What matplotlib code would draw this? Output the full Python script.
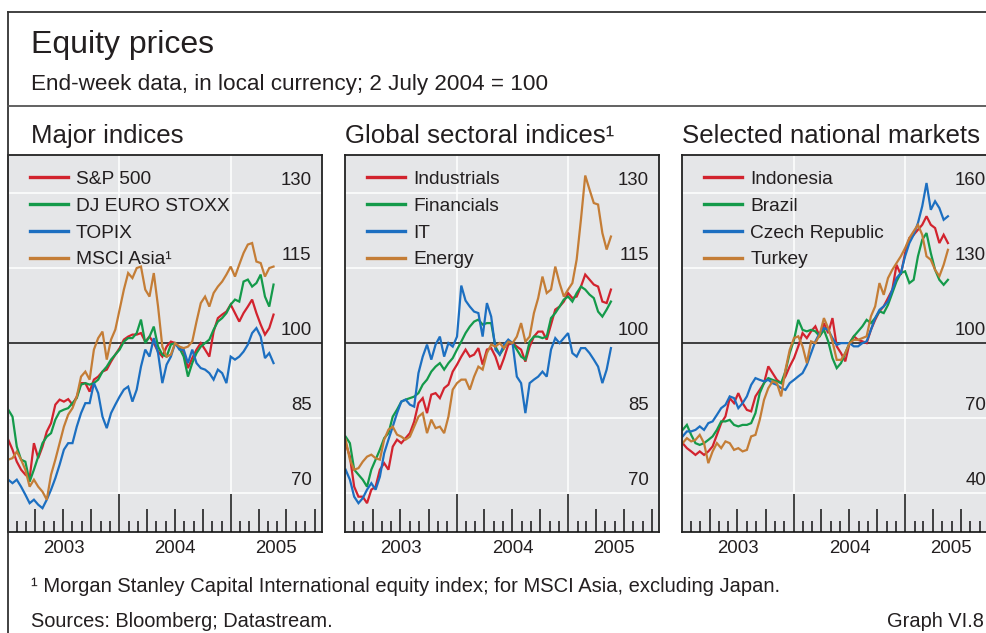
import numpy as np
import pandas as pd
import matplotlib
matplotlib.use("Agg")
import matplotlib.pyplot as plt
from matplotlib.lines import Line2D
from matplotlib.transforms import blended_transform_factory

plt.rcParams['font.family'] = ['Liberation Sans', 'DejaVu Sans']

# ---------------- data (end-week, sampled every two weeks from 3 Jan 2003; 2 July 2004 = 100)
start_date = '2003-01-03'

major_names = ['S&P 500', 'DJ EURO STOXX', 'TOPIX', 'MSCI Asia\u00b9']
sp500 = [80.7, 78.7, 76.3, 74.7, 73.7, 73.0, 80.0, 77.0, 79.3, 82.3,
         84.0, 87.7, 88.7, 88.3, 88.8, 87.7, 89.3, 92.0, 92.0, 90.3,
         92.7, 93.3, 94.3, 94.7, 96.3, 97.7, 99.0, 100.7, 101.3, 101.7,
         101.7, 102.0, 100.3, 101.3, 100.0, 98.3, 97.3, 99.3, 100.3, 100.0,
         99.0, 98.3, 95.0, 97.0, 98.7, 100.0, 98.7, 97.3, 102.3, 105.0,
         105.7, 106.3, 107.7, 106.0, 104.3, 106.0, 107.3, 108.7, 106.0, 103.7,
         101.7, 103.0, 105.7]
eurostoxx = [86.7, 85.3, 79.3, 76.7, 76.3, 72.3, 74.7, 77.3, 80.0, 81.3,
             82.0, 84.7, 86.3, 86.7, 87.0, 88.0, 89.0, 91.7, 92.0, 91.7,
             92.0, 92.7, 94.3, 95.3, 96.7, 97.7, 98.7, 100.3, 101.0, 101.0,
             102.0, 104.7, 100.0, 101.3, 103.3, 99.3, 97.7, 97.3, 99.7, 100.0,
             99.0, 97.3, 93.3, 96.0, 98.0, 99.3, 100.0, 100.7, 102.7, 104.3,
             105.0, 106.0, 107.7, 108.7, 108.3, 112.3, 112.7, 111.3, 112.0, 113.7,
             109.3, 107.3, 111.7]
topix = [72.7, 72.0, 72.7, 71.3, 69.7, 68.0, 68.7, 67.7, 67.0, 68.7,
         70.7, 73.0, 75.7, 78.7, 80.0, 80.0, 83.3, 86.0, 88.0, 88.0,
         92.0, 90.0, 85.3, 83.0, 86.0, 87.7, 89.3, 90.7, 91.3, 88.3,
         90.7, 95.3, 98.7, 97.3, 101.0, 98.0, 92.0, 95.7, 97.3, 100.0,
         98.7, 98.7, 96.0, 98.7, 96.0, 95.0, 94.7, 94.0, 92.7, 94.7,
         94.0, 92.0, 97.3, 96.7, 97.3, 98.3, 99.7, 102.0, 103.0, 101.3,
         97.0, 98.0, 96.0]
msci_asia = [76.7, 77.0, 78.3, 76.7, 74.7, 71.3, 72.7, 71.3, 70.3, 68.7,
             73.7, 76.7, 80.0, 83.3, 85.7, 87.0, 89.3, 93.3, 94.3, 92.7,
             98.7, 101.0, 102.3, 96.7, 100.7, 102.7, 106.7, 110.7, 114.0, 113.0,
             115.0, 115.3, 110.7, 109.3, 114.0, 107.3, 99.3, 97.3, 97.7, 100.0,
             99.3, 99.0, 99.3, 100.3, 104.3, 108.0, 109.3, 107.3, 110.0, 111.3,
             112.3, 113.7, 115.3, 113.3, 115.7, 118.0, 119.7, 120.0, 116.3, 116.0,
             113.3, 115.0, 115.3]

sector_names = ['Industrials', 'Financials', 'IT', 'Energy']
industrials = [80.0, 77.3, 71.3, 69.3, 69.3, 68.0, 70.7, 71.3, 74.7, 76.0,
               74.7, 79.3, 80.7, 80.0, 81.0, 82.0, 84.3, 88.0, 89.0, 86.0,
               89.7, 90.0, 89.0, 91.0, 91.7, 94.3, 95.7, 97.3, 98.7, 97.3,
               97.7, 99.0, 95.7, 98.7, 99.0, 97.3, 94.7, 97.0, 99.7, 100.0,
               99.3, 98.7, 96.3, 99.3, 101.3, 102.3, 102.3, 100.7, 103.7, 106.7,
               107.3, 108.3, 110.0, 109.0, 109.3, 111.3, 113.7, 112.7, 111.7, 111.3,
               108.3, 108.0, 110.7]
financials = [81.3, 80.0, 74.7, 73.7, 72.7, 71.3, 74.7, 76.7, 78.7, 81.0,
              82.0, 85.3, 86.7, 88.3, 88.7, 89.0, 89.3, 90.0, 91.7, 92.7,
              94.3, 95.3, 96.0, 94.7, 96.0, 97.0, 98.7, 100.3, 102.0, 103.3,
              104.3, 104.7, 103.7, 104.0, 104.0, 99.3, 97.7, 99.0, 100.3, 100.0,
              98.7, 97.3, 96.7, 100.3, 101.3, 101.3, 101.0, 101.3, 105.0, 106.0,
              107.3, 108.7, 109.3, 108.3, 110.0, 111.3, 110.7, 109.7, 109.0, 106.3,
              105.3, 106.7, 108.3]
it_sector = [74.7, 72.7, 69.3, 68.0, 69.0, 70.7, 72.0, 70.7, 73.3, 78.0,
             80.7, 83.3, 86.0, 88.3, 88.7, 87.7, 87.3, 94.0, 97.3, 99.7,
             96.7, 99.7, 101.3, 97.3, 100.0, 99.3, 101.3, 111.5, 108.5, 107.3,
             106.3, 106.0, 101.3, 108.0, 105.3, 98.7, 97.7, 99.7, 100.7, 100.0,
             93.3, 92.0, 86.0, 92.0, 92.7, 93.3, 94.3, 93.3, 98.7, 101.0,
             100.0, 101.0, 102.0, 98.0, 97.3, 99.0, 99.0, 98.0, 96.7, 95.3,
             92.0, 94.7, 99.0]
energy = [80.7, 76.7, 74.7, 75.0, 76.3, 77.3, 77.7, 77.0, 76.7, 80.7,
          82.7, 83.3, 81.7, 81.3, 80.7, 81.3, 83.3, 85.3, 86.0, 82.0,
          84.7, 83.0, 83.3, 82.0, 85.3, 90.7, 92.0, 92.7, 92.7, 90.7,
          93.3, 95.3, 94.7, 98.0, 99.7, 99.3, 100.0, 99.0, 100.3, 100.0,
          101.3, 104.0, 100.3, 101.3, 106.0, 109.0, 113.3, 110.0, 110.7, 115.3,
          112.0, 109.3, 110.7, 112.0, 116.7, 124.7, 133.5, 130.7, 128.0, 127.7,
          122.0, 118.7, 121.3]

national_names = ['Indonesia', 'Brazil', 'Czech Republic', 'Turkey']
indonesia = [60.0, 58.0, 56.7, 55.3, 56.7, 55.3, 56.7, 58.7, 63.3, 68.0,
             70.7, 78.0, 76.0, 80.0, 76.0, 73.3, 72.7, 78.7, 81.3, 84.0,
             90.7, 88.0, 85.3, 84.0, 86.7, 90.7, 94.0, 98.7, 104.0, 102.0,
             104.7, 106.7, 102.7, 108.0, 104.0, 110.0, 98.7, 96.0, 92.7, 100.0,
             102.7, 101.3, 100.7, 100.0, 105.3, 109.3, 112.7, 114.7, 118.0, 121.3,
             131.3, 127.3, 136.0, 142.0, 143.3, 145.3, 147.3, 150.7, 147.3, 146.0,
             140.0, 143.3, 140.0]
brazil = [65.3, 67.3, 63.3, 60.0, 59.3, 60.0, 61.3, 62.7, 65.3, 68.7,
          68.7, 69.3, 67.3, 66.7, 67.3, 67.3, 68.0, 72.0, 80.0, 84.0,
          86.0, 85.3, 84.7, 84.0, 88.7, 96.0, 101.3, 109.3, 105.3, 104.7,
          105.3, 104.7, 102.7, 105.3, 100.7, 94.0, 90.0, 92.0, 96.0, 100.0,
          102.7, 104.7, 106.7, 109.3, 108.0, 110.0, 112.7, 112.0, 115.3, 120.0,
          124.7, 128.0, 128.7, 124.0, 125.3, 134.7, 141.3, 144.0, 136.0, 129.3,
          125.3, 123.3, 125.3]
czech = [62.7, 64.7, 64.7, 65.3, 66.7, 65.3, 68.0, 68.7, 71.3, 74.0,
         75.3, 78.7, 78.0, 74.0, 76.0, 78.7, 83.3, 86.0, 85.3, 84.7,
         85.3, 84.0, 83.3, 82.0, 81.3, 84.0, 85.3, 86.7, 88.0, 91.3,
         96.0, 100.7, 104.0, 106.0, 105.3, 102.0, 99.3, 100.0, 100.0, 100.0,
         98.7, 98.7, 100.0, 100.7, 105.3, 110.0, 113.3, 114.7, 116.7, 121.3,
         126.0, 128.0, 134.7, 140.0, 143.3, 148.0, 154.7, 164.0, 153.3, 156.7,
         154.0, 149.3, 150.7]
turkey = [60.0, 62.0, 60.7, 61.3, 63.3, 60.0, 52.0, 56.7, 60.0, 58.0,
          60.7, 60.0, 57.3, 58.0, 56.7, 57.3, 62.7, 63.3, 69.3, 77.3,
          82.0, 84.7, 84.0, 78.7, 89.3, 97.3, 102.0, 102.7, 98.7, 92.0,
          100.7, 100.0, 103.3, 110.0, 106.0, 100.7, 93.3, 93.3, 96.0, 100.0,
          101.3, 101.3, 102.0, 102.7, 110.7, 114.7, 124.0, 119.3, 126.0, 129.3,
          132.0, 134.7, 138.0, 142.0, 144.7, 147.3, 143.3, 134.7, 133.3, 129.3,
          126.7, 131.3, 137.3]

panel_titles = ['Major indices', 'Global sectoral indices\u00b9', 'Selected national markets']
yticks_major = [70, 85, 100, 115, 130]
yticks_national = [40, 70, 100, 130, 160]
year_labels = ['2003', '2004', '2005']

colors = ['#d2232e', '#149a4a', '#1c6fc1', '#c47d36']

title = 'Equity prices'
subtitle = 'End-week data, in local currency; 2 July 2004 = 100'
footnote = '\u00b9 Morgan Stanley Capital International equity index; for MSCI Asia, excluding Japan.'
sources = 'Sources: Bloomberg; Datastream.'
graph_id = 'Graph VI.8'


def decimal_year(idx):
    idx = pd.DatetimeIndex(idx)
    days = np.where(idx.is_leap_year, 366.0, 365.0)
    return idx.year.values + (idx.dayofyear.values - 1) / days


def series_x(vals):
    return decimal_year(pd.date_range(start_date, periods=len(vals), freq='14D'))


# ---------------- figure
W, H = 986, 633
fig = plt.figure(figsize=(W / 100, H / 100), dpi=100)
fig.patch.set_facecolor('white')

TXT = '#231f20'
XMIN, XMAX = 2003.0, 2003.0 + 314 / 111.7

panels = [
    dict(title=panel_titles[0], names=major_names, data=[sp500, eurostoxx, topix, msci_asia],
         yticks=yticks_major, ylim=(62.3, 137.7), left=7.6, title_x=31),
    dict(title=panel_titles[1], names=sector_names, data=[industrials, financials, it_sector, energy],
         yticks=yticks_major, ylim=(62.3, 137.7), left=345, title_x=345),
    dict(title=panel_titles[2], names=national_names, data=[indonesia, brazil, czech, turkey],
         yticks=yticks_national, ylim=(24.6, 175.4), left=682, title_x=682),
]

ax_top, ax_bottom = 154.5, 531.7
ax_h = ax_bottom - ax_top
ax_w = 314

month_idx = pd.date_range('2003-01-01', '2005-12-01', freq='MS')
month_starts = decimal_year(month_idx)
month_nums = month_idx.month.values

for p in panels:
    ax = fig.add_axes([p['left'] / W, (H - ax_bottom) / H, ax_w / W, ax_h / H])
    ax.set_facecolor('#e5e6e8')
    ax.set_xlim(XMIN, XMAX)
    ax.set_ylim(*p['ylim'])
    for s in ax.spines.values():
        s.set_color('#222222')
        s.set_linewidth(1.3)
    ax.set_xticks([])
    ax.set_yticks([])

    # grid
    for v in p['yticks']:
        if v == 100:
            continue
        ax.axhline(v, color='white', lw=1.1, zorder=1)
    for yr in (2004, 2005):
        ax.axvline(yr, color='white', lw=1.1, zorder=1)
    ax.axhline(100, color='#111111', lw=1.1, zorder=1.5)

    # series
    handles = []
    for vals, name, c in zip(p['data'], p['names'], colors):
        ln, = ax.plot(series_x(vals), vals, color=c, lw=1.6, label=name, zorder=2,
                      solid_joinstyle='miter')
        handles.append(ln)

    # x ticks (month / quarter / year), drawn inward from the bottom
    trans = blended_transform_factory(ax.transData, ax.transAxes)
    for xm, mn in zip(month_starts, month_nums):
        if xm <= XMIN + 1e-6 or xm >= XMAX:
            continue
        if mn == 1:
            L = 37.5
        elif mn in (4, 7, 10):
            L = 22.5
        else:
            L = 11
        ax.plot([xm, xm], [0, L / ax_h], transform=trans, color='#111111', lw=1.1,
                zorder=3, clip_on=False, solid_capstyle='butt')

    # year labels centred on the visible part of each year
    for lab in year_labels:
        y0 = float(lab)
        y1 = min(y0 + 1, XMAX)
        ax.annotate(lab, xy=((y0 + y1) / 2, 0), xycoords=('data', 'axes fraction'),
                    xytext=(0, -15.3), textcoords='offset points', ha='center',
                    va='baseline', fontsize=13.4, color=TXT, annotation_clip=False)

    # y labels inside on the right, just above each grid line
    for v in p['yticks']:
        ax.annotate(str(v), xy=(1, v), xycoords=('axes fraction', 'data'),
                    xytext=(-7.2, 5.6), textcoords='offset points', ha='right',
                    va='baseline', fontsize=13.4, color=TXT, annotation_clip=False)

    leg = ax.legend(handles=handles, loc='upper left', bbox_to_anchor=(22.4 / ax_w, 1 - 16.0 / ax_h),
                    frameon=False, fontsize=13.8, handlelength=1.98, handletextpad=0.42,
                    labelspacing=0.49, borderpad=0, borderaxespad=0)
    for t in leg.get_texts():
        t.set_color(TXT)
    for lh in leg.get_lines():
        lh.set_linewidth(2.4)
    leg.set_zorder(4)

    fig.text(p['title_x'] / W, (H - 143.3) / H, p['title'], fontsize=18.6, color=TXT,
             ha='left', va='baseline')

# ---------------- frame lines and texts
fig.add_artist(Line2D([8 / W, 1.0], [(H - 11.7) / H] * 2, transform=fig.transFigure,
                      color='#333333', lw=1.3))
fig.add_artist(Line2D([8 / W, 8 / W], [0, (H - 11.7) / H], transform=fig.transFigure,
                      color='#333333', lw=1.3))
fig.add_artist(Line2D([8 / W, 1.0], [(H - 106) / H] * 2, transform=fig.transFigure,
                      color='#555555', lw=1.3))

fig.text(31 / W, (H - 53.3) / H, title, fontsize=23, color=TXT, ha='left', va='baseline')
fig.text(31 / W, (H - 90) / H, subtitle, fontsize=16.2, color=TXT, ha='left', va='baseline')
fig.text(31 / W, (H - 592) / H, footnote, fontsize=14.5, color=TXT, ha='left', va='baseline')
fig.text(31 / W, (H - 627) / H, sources, fontsize=14.4, color=TXT, ha='left', va='baseline')
fig.text(984 / W, (H - 627) / H, graph_id, fontsize=14.4, color=TXT, ha='right', va='baseline')

fig.savefig('out.png', dpi=100)
